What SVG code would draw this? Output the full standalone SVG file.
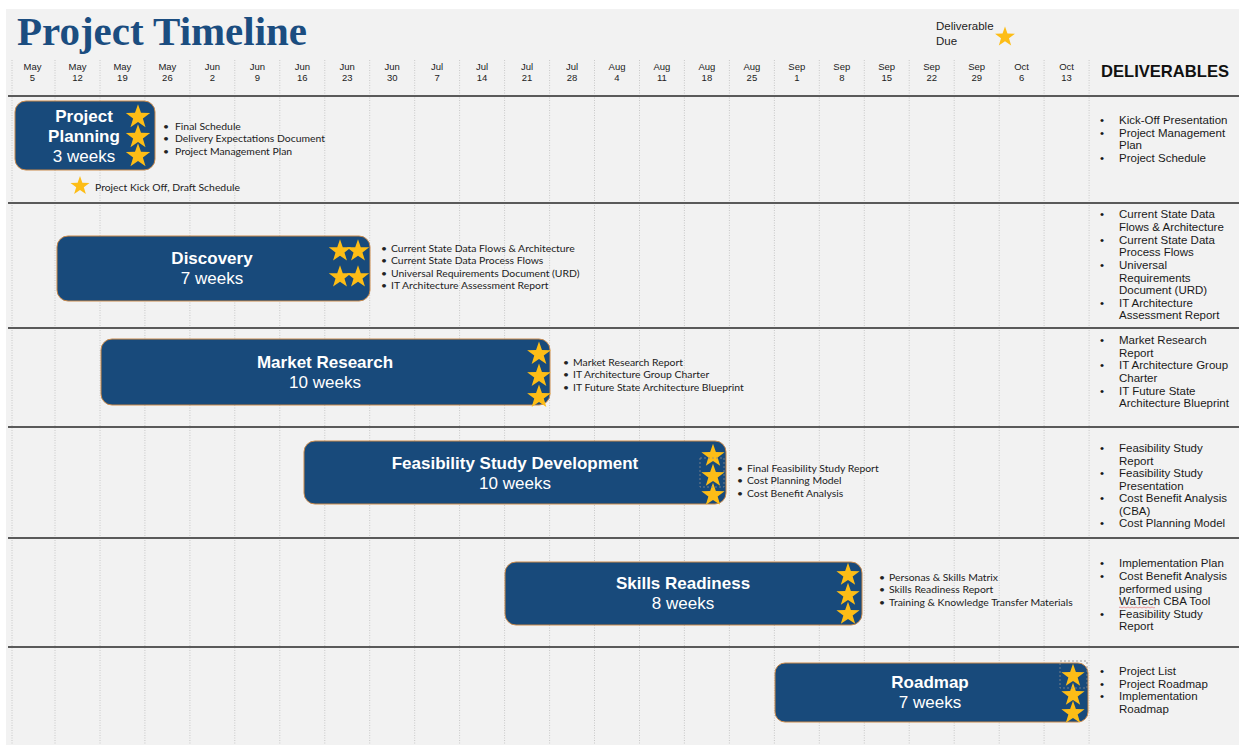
<svg xmlns="http://www.w3.org/2000/svg" width="1239" height="745" viewBox="0 0 1239 745">
  <style>
    .title { font-family: "Liberation Serif", "DejaVu Serif", serif; font-weight: bold; font-size: 41px; fill: #1b4d80; }
    .date { font-family: "Liberation Sans", Arial, sans-serif; font-size: 9.5px; fill: #222; text-anchor: middle; }
    .head { font-family: "Liberation Sans", Arial, sans-serif; font-weight: bold; font-size: 17px; fill: #111; }
    .legend { font-family: "Liberation Sans", Arial, sans-serif; font-size: 11.5px; fill: #222; }
    .grid { stroke: #c8c8c8; stroke-width: 1; stroke-dasharray: 1 1.5; }
    .row { stroke: #5a5a5a; stroke-width: 2; }
    .bar { fill: #184a7b; stroke: #c9894a; stroke-width: 1; }
    .bt { font-family: "Liberation Sans", Arial, sans-serif; font-weight: bold; font-size: 17px; fill: #fff; text-anchor: middle; }
    .bw { font-family: "Liberation Sans", Arial, sans-serif; font-size: 17px; fill: #fff; text-anchor: middle; }
    .note { font-family: Lato, "Open Sans", sans-serif; font-size: 10.4px; fill: #222; }
    .del { font-family: "Liberation Sans", Arial, sans-serif; font-size: 11.5px; fill: #1a1a1a; }
    .star { fill: #fdbd16; }
    .sel { fill: none; stroke: #8a8a8a; stroke-width: 0.8; stroke-dasharray: 2 2; }
  </style>
  <defs>
    <path id="star" class="star" d="M0,-10 L2.35,-3.24 L9.51,-3.09 L3.8,1.24 L5.88,8.09 L0,4 L-5.88,8.09 L-3.8,1.24 L-9.51,-3.09 L-2.35,-3.24Z"/>
  </defs>

  <!-- page -->
  <rect x="0" y="0" width="1239" height="745" fill="#ffffff"/>
  <rect x="6" y="9" width="1233" height="736" fill="#f2f2f2"/>

  <text class="title" x="17" y="45" textLength="290" lengthAdjust="spacingAndGlyphs">Project Timeline</text>

  <!-- legend -->
  <g id="legend">
    <text class="legend" x="936" y="30">Deliverable</text>
    <text class="legend" x="936" y="45">Due</text>
    <use href="#star" transform="translate(1005,37) scale(1.05)"/>
  </g>

  <!-- week grid -->
  <g id="grid">
    <line class="grid" x1="12" y1="60" x2="12" y2="745"/>
    <line class="grid" x1="55" y1="60" x2="55" y2="745"/>
    <line class="grid" x1="100" y1="60" x2="100" y2="745"/>
    <line class="grid" x1="144.9" y1="60" x2="144.9" y2="745"/>
    <line class="grid" x1="189.9" y1="60" x2="189.9" y2="745"/>
    <line class="grid" x1="234.8" y1="60" x2="234.8" y2="745"/>
    <line class="grid" x1="279.8" y1="60" x2="279.8" y2="745"/>
    <line class="grid" x1="324.8" y1="60" x2="324.8" y2="745"/>
    <line class="grid" x1="369.7" y1="60" x2="369.7" y2="745"/>
    <line class="grid" x1="414.7" y1="60" x2="414.7" y2="745"/>
    <line class="grid" x1="459.6" y1="60" x2="459.6" y2="745"/>
    <line class="grid" x1="504.6" y1="60" x2="504.6" y2="745"/>
    <line class="grid" x1="549.6" y1="60" x2="549.6" y2="745"/>
    <line class="grid" x1="594.5" y1="60" x2="594.5" y2="745"/>
    <line class="grid" x1="639.5" y1="60" x2="639.5" y2="745"/>
    <line class="grid" x1="684.4" y1="60" x2="684.4" y2="745"/>
    <line class="grid" x1="729.4" y1="60" x2="729.4" y2="745"/>
    <line class="grid" x1="774.4" y1="60" x2="774.4" y2="745"/>
    <line class="grid" x1="819.3" y1="60" x2="819.3" y2="745"/>
    <line class="grid" x1="864.3" y1="60" x2="864.3" y2="745"/>
    <line class="grid" x1="909.2" y1="60" x2="909.2" y2="745"/>
    <line class="grid" x1="954.2" y1="60" x2="954.2" y2="745"/>
    <line class="grid" x1="999.2" y1="60" x2="999.2" y2="745"/>
    <line class="grid" x1="1044.1" y1="60" x2="1044.1" y2="745"/>
    <line class="grid" x1="1089.1" y1="60" x2="1089.1" y2="745"/>
  </g>

  <!-- week headers -->
  <g id="dates">
    <text class="date" x="32.5" y="70">May</text><text class="date" x="32.5" y="81">5</text>
    <text class="date" x="77.5" y="70">May</text><text class="date" x="77.5" y="81">12</text>
    <text class="date" x="122.4" y="70">May</text><text class="date" x="122.4" y="81">19</text>
    <text class="date" x="167.4" y="70">May</text><text class="date" x="167.4" y="81">26</text>
    <text class="date" x="212.3" y="70">Jun</text><text class="date" x="212.3" y="81">2</text>
    <text class="date" x="257.3" y="70">Jun</text><text class="date" x="257.3" y="81">9</text>
    <text class="date" x="302.3" y="70">Jun</text><text class="date" x="302.3" y="81">16</text>
    <text class="date" x="347.2" y="70">Jun</text><text class="date" x="347.2" y="81">23</text>
    <text class="date" x="392.2" y="70">Jun</text><text class="date" x="392.2" y="81">30</text>
    <text class="date" x="437.1" y="70">Jul</text><text class="date" x="437.1" y="81">7</text>
    <text class="date" x="482.1" y="70">Jul</text><text class="date" x="482.1" y="81">14</text>
    <text class="date" x="527.1" y="70">Jul</text><text class="date" x="527.1" y="81">21</text>
    <text class="date" x="572" y="70">Jul</text><text class="date" x="572" y="81">28</text>
    <text class="date" x="617" y="70">Aug</text><text class="date" x="617" y="81">4</text>
    <text class="date" x="661.9" y="70">Aug</text><text class="date" x="661.9" y="81">11</text>
    <text class="date" x="706.9" y="70">Aug</text><text class="date" x="706.9" y="81">18</text>
    <text class="date" x="751.9" y="70">Aug</text><text class="date" x="751.9" y="81">25</text>
    <text class="date" x="796.8" y="70">Sep</text><text class="date" x="796.8" y="81">1</text>
    <text class="date" x="841.8" y="70">Sep</text><text class="date" x="841.8" y="81">8</text>
    <text class="date" x="886.7" y="70">Sep</text><text class="date" x="886.7" y="81">15</text>
    <text class="date" x="931.7" y="70">Sep</text><text class="date" x="931.7" y="81">22</text>
    <text class="date" x="976.7" y="70">Sep</text><text class="date" x="976.7" y="81">29</text>
    <text class="date" x="1021.6" y="70">Oct</text><text class="date" x="1021.6" y="81">6</text>
    <text class="date" x="1066.6" y="70">Oct</text><text class="date" x="1066.6" y="81">13</text>
    <text class="head" x="1101" y="77" textLength="128" lengthAdjust="spacingAndGlyphs">DELIVERABLES</text>
  </g>

  <!-- row separators -->
  <g id="rows">
    <line class="row" x1="8" y1="96" x2="1239" y2="96"/>
    <line class="row" x1="8" y1="203" x2="1239" y2="203"/>
    <line class="row" x1="8" y1="328" x2="1239" y2="328"/>
    <line class="row" x1="8" y1="427" x2="1239" y2="427"/>
    <line class="row" x1="8" y1="538" x2="1239" y2="538"/>
    <line class="row" x1="8" y1="647" x2="1239" y2="647"/>
  </g>

  <!-- phase 1 -->
  <g id="project-planning">
    <rect class="bar" x="15" y="101" width="140" height="69" rx="11"/>
    <text class="bt" x="84" y="122">Project</text>
    <text class="bt" x="84" y="142">Planning</text>
    <text class="bw" x="84" y="162">3 weeks</text>
    <use href="#star" transform="translate(138,117) scale(1.28)"/>
    <use href="#star" transform="translate(138,137) scale(1.28)"/>
    <use href="#star" transform="translate(138,156) scale(1.28)"/>
    <text class="note" x="163" y="129.5">•</text><text class="note" x="175" y="129.5">Final Schedule</text>
    <text class="note" x="163" y="142">•</text><text class="note" x="175" y="142">Delivery Expectations Document</text>
    <text class="note" x="163" y="154.5">•</text><text class="note" x="175" y="154.5">Project Management Plan</text>
    <use href="#star" transform="translate(80,186) scale(1)"/>
    <text class="note" x="95" y="190.5">Project Kick Off, Draft Schedule</text>
  </g>

  <!-- phase 2 -->
  <g id="discovery">
    <rect class="bar" x="57" y="236" width="313" height="65" rx="11"/>
    <text class="bt" x="212" y="264">Discovery</text>
    <text class="bw" x="212" y="284">7 weeks</text>
    <use href="#star" transform="translate(340,251) scale(1.18)"/>
    <use href="#star" transform="translate(358,251) scale(1.18)"/>
    <use href="#star" transform="translate(340,277) scale(1.18)"/>
    <use href="#star" transform="translate(358,277) scale(1.18)"/>
    <text class="note" x="381" y="251.5">•</text><text class="note" x="391" y="251.5">Current State Data Flows &amp; Architecture</text>
    <text class="note" x="381" y="264">•</text><text class="note" x="391" y="264">Current State Data Process Flows</text>
    <text class="note" x="381" y="276.5">•</text><text class="note" x="391" y="276.5">Universal Requirements Document (URD)</text>
    <text class="note" x="381" y="289">•</text><text class="note" x="391" y="289">IT Architecture Assessment Report</text>
  </g>

  <!-- phase 3 -->
  <g id="market-research">
    <rect class="bar" x="101" y="339" width="449" height="66" rx="11"/>
    <text class="bt" x="325" y="368">Market Research</text>
    <text class="bw" x="325" y="388">10 weeks</text>
    <use href="#star" transform="translate(539,354) scale(1.25)"/>
    <use href="#star" transform="translate(539,376) scale(1.25)"/>
    <use href="#star" transform="translate(539,397) scale(1.25)"/>
    <text class="note" x="563" y="365.5">•</text><text class="note" x="573" y="365.5">Market Research Report</text>
    <text class="note" x="563" y="378">•</text><text class="note" x="573" y="378">IT Architecture Group Charter</text>
    <text class="note" x="563" y="390.5">•</text><text class="note" x="573" y="390.5">IT Future State Architecture Blueprint</text>
  </g>

  <!-- phase 4 -->
  <g id="feasibility-study">
    <rect class="bar" x="304" y="441" width="422" height="63" rx="11"/>
    <text class="bt" x="515" y="469">Feasibility Study Development</text>
    <text class="bw" x="515" y="489">10 weeks</text>
    <use href="#star" transform="translate(713,456) scale(1.22)"/>
    <use href="#star" transform="translate(713,476) scale(1.22)"/>
    <use href="#star" transform="translate(713,495) scale(1.22)"/>
    <rect class="sel" x="700" y="458" width="24" height="29"/>
    <text class="note" x="737" y="471.5">•</text><text class="note" x="747" y="471.5">Final Feasibility Study Report</text>
    <text class="note" x="737" y="484">•</text><text class="note" x="747" y="484">Cost Planning Model</text>
    <text class="note" x="737" y="496.5">•</text><text class="note" x="747" y="496.5">Cost Benefit Analysis</text>
  </g>

  <!-- phase 5 -->
  <g id="skills-readiness">
    <rect class="bar" x="505" y="562" width="357" height="63" rx="11"/>
    <text class="bt" x="683" y="589">Skills Readiness</text>
    <text class="bw" x="683" y="609">8 weeks</text>
    <use href="#star" transform="translate(848,575) scale(1.22)"/>
    <use href="#star" transform="translate(848,595) scale(1.22)"/>
    <use href="#star" transform="translate(848,614) scale(1.22)"/>
    <text class="note" x="879" y="580.5">•</text><text class="note" x="889" y="580.5">Personas &amp; Skills Matrix</text>
    <text class="note" x="879" y="593">•</text><text class="note" x="889" y="593">Skills Readiness Report</text>
    <text class="note" x="879" y="605.5">•</text><text class="note" x="889" y="605.5">Training &amp; Knowledge Transfer Materials</text>
  </g>

  <!-- phase 6 -->
  <g id="roadmap">
    <rect class="bar" x="775" y="663" width="313" height="59" rx="10"/>
    <text class="bt" x="930" y="688">Roadmap</text>
    <text class="bw" x="930" y="708">7 weeks</text>
    <use href="#star" transform="translate(1073,676) scale(1.22)"/>
    <use href="#star" transform="translate(1073,695) scale(1.22)"/>
    <use href="#star" transform="translate(1073,713) scale(1.22)"/>
    <rect class="sel" x="1060" y="661" width="27" height="27"/>
  </g>

  <!-- deliverables column -->
  <g id="deliverables">
    <text class="del" x="1100" y="124">•</text><text class="del" x="1119" y="124">Kick-Off Presentation</text>
    <text class="del" x="1100" y="137">•</text><text class="del" x="1119" y="137">Project Management</text>
    <text class="del" x="1119" y="149">Plan</text>
    <text class="del" x="1100" y="162">•</text><text class="del" x="1119" y="162">Project Schedule</text>

    <text class="del" x="1100" y="218">•</text><text class="del" x="1119" y="218">Current State Data</text>
    <text class="del" x="1119" y="231">Flows &amp; Architecture</text>
    <text class="del" x="1100" y="244">•</text><text class="del" x="1119" y="244">Current State Data</text>
    <text class="del" x="1119" y="256">Process Flows</text>
    <text class="del" x="1100" y="269">•</text><text class="del" x="1119" y="269">Universal</text>
    <text class="del" x="1119" y="282">Requirements</text>
    <text class="del" x="1119" y="294">Document (URD)</text>
    <text class="del" x="1100" y="307">•</text><text class="del" x="1119" y="307">IT Architecture</text>
    <text class="del" x="1119" y="319">Assessment Report</text>

    <text class="del" x="1100" y="344">•</text><text class="del" x="1119" y="344">Market Research</text>
    <text class="del" x="1119" y="357">Report</text>
    <text class="del" x="1100" y="369">•</text><text class="del" x="1119" y="369">IT Architecture Group</text>
    <text class="del" x="1119" y="382">Charter</text>
    <text class="del" x="1100" y="395">•</text><text class="del" x="1119" y="395">IT Future State</text>
    <text class="del" x="1119" y="407">Architecture Blueprint</text>

    <text class="del" x="1100" y="452">•</text><text class="del" x="1119" y="452">Feasibility Study</text>
    <text class="del" x="1119" y="465">Report</text>
    <text class="del" x="1100" y="477">•</text><text class="del" x="1119" y="477">Feasibility Study</text>
    <text class="del" x="1119" y="490">Presentation</text>
    <text class="del" x="1100" y="502">•</text><text class="del" x="1119" y="502">Cost Benefit Analysis</text>
    <text class="del" x="1119" y="515">(CBA)</text>
    <text class="del" x="1100" y="527">•</text><text class="del" x="1119" y="527">Cost Planning Model</text>

    <text class="del" x="1100" y="567">•</text><text class="del" x="1119" y="567">Implementation Plan</text>
    <text class="del" x="1100" y="580">•</text><text class="del" x="1119" y="580">Cost Benefit Analysis</text>
    <text class="del" x="1119" y="593">performed using</text>
    <text class="del" x="1119" y="605">WaTech CBA Tool</text>
    <!-- spell-check squiggle under "WaTech" -->
    <path d="M1119,607.5 q1,-1 2,0 t2,0 t2,0 t2,0 t2,0 t2,0 t2,0 t2,0 t2,0 t2,0 t2,0 t2,0 t2,0 t2,0 t2,0 t2,0 t2,0 t2,0" fill="none" stroke="#e06060" stroke-width="0.6"/>
    <text class="del" x="1100" y="618">•</text><text class="del" x="1119" y="618">Feasibility Study</text>
    <text class="del" x="1119" y="630">Report</text>

    <text class="del" x="1100" y="675">•</text><text class="del" x="1119" y="675">Project List</text>
    <text class="del" x="1100" y="688">•</text><text class="del" x="1119" y="688">Project Roadmap</text>
    <text class="del" x="1100" y="700">•</text><text class="del" x="1119" y="700">Implementation</text>
    <text class="del" x="1119" y="713">Roadmap</text>
  </g>
</svg>
